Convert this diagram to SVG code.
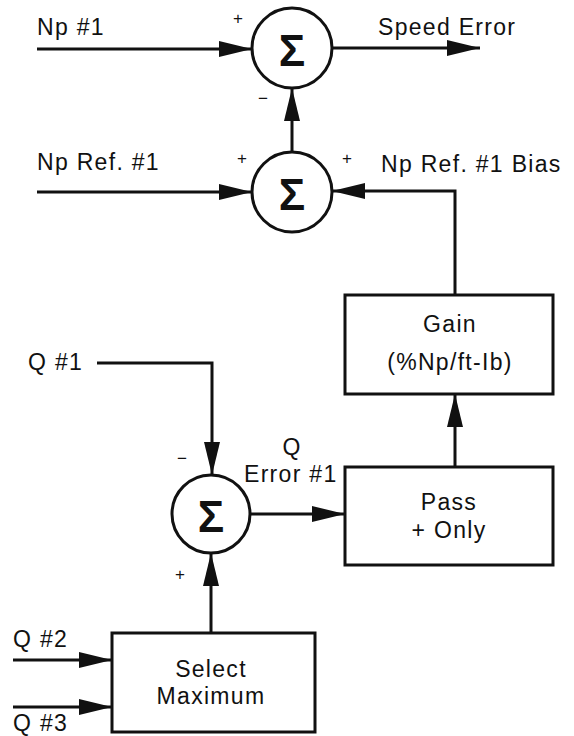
<svg xmlns="http://www.w3.org/2000/svg" width="574" height="736" viewBox="0 0 574 736">
  <style>
    .lbl { font-family: "Liberation Sans", Arial, sans-serif; font-size: 23px; fill: #111; letter-spacing: 1.3px; }
    .mid { text-anchor: middle; }
    .sign { font-family: "Liberation Sans", Arial, sans-serif; font-size: 17px; fill: #111; text-anchor: middle; }
    .sigma { font-family: "Liberation Sans", Arial, sans-serif; font-size: 44px; font-weight: bold; fill: #111; text-anchor: middle; }
    .ring { fill: #fff; stroke: #111; stroke-width: 3; }
    .box { fill: #fff; stroke: #111; stroke-width: 3; }
    .wire { fill: none; stroke: #111; stroke-width: 3; marker-end: url(#head); }
  </style>
  <defs>
    <marker id="head" markerUnits="userSpaceOnUse" markerWidth="34" markerHeight="18" refX="33" refY="8" orient="auto">
      <path d="M0,0 L33,8 L0,16 Z" fill="#111"/>
    </marker>
  </defs>
  <rect width="574" height="736" fill="#fff"/>

  <!-- signal paths -->
  <g id="connectors">
    <path class="wire" d="M37,49 H252"/>
    <path class="wire" d="M332,48 H480"/>
    <path class="wire" d="M292,152 V88"/>
    <path class="wire" d="M37,192 H252"/>
    <path class="wire" d="M455,295 V191 H332"/>
    <path class="wire" d="M455,467 V394"/>
    <path class="wire" d="M250,514 H345"/>
    <path class="wire" d="M97,363 H212 V475"/>
    <path class="wire" d="M211,633 V553"/>
    <path class="wire" d="M13,660 H112"/>
    <path class="wire" d="M13,707 H112"/>
  </g>

  <!-- summing junctions -->
  <g id="sum-speed">
    <circle class="ring" cx="292" cy="48" r="40"/>
    <text class="sigma" x="292" y="66">Σ</text>
    <text class="sign" x="238" y="24">+</text>
    <text class="sign" x="263" y="104">−</text>
  </g>
  <g id="sum-ref">
    <circle class="ring" cx="292" cy="192" r="40"/>
    <text class="sigma" x="292" y="210">Σ</text>
    <text class="sign" x="242" y="164">+</text>
    <text class="sign" x="347" y="164">+</text>
  </g>
  <g id="sum-q">
    <circle class="ring" cx="211" cy="514" r="39"/>
    <text class="sigma" x="211" y="532">Σ</text>
    <text class="sign" x="182" y="464">−</text>
    <text class="sign" x="180" y="580">+</text>
  </g>

  <!-- blocks -->
  <g id="gain">
    <rect class="box" x="345" y="295" width="208" height="99"/>
    <text class="lbl mid" x="450" y="332">Gain</text>
    <text class="lbl mid" x="450" y="370">(%Np/ft-Ib)</text>
  </g>
  <g id="pass">
    <rect class="box" x="345" y="467" width="208" height="98"/>
    <text class="lbl mid" x="449" y="510">Pass</text>
    <text class="lbl mid" x="449" y="538">+ Only</text>
  </g>
  <g id="select">
    <rect class="box" x="112" y="633" width="203" height="99"/>
    <text class="lbl mid" x="211" y="677">Select</text>
    <text class="lbl mid" x="211" y="704">Maximum</text>
  </g>

  <!-- signal names -->
  <g id="labels">
    <text class="lbl" x="37" y="35">Np #1</text>
    <text class="lbl" x="378" y="35">Speed Error</text>
    <text class="lbl" x="37" y="170">Np Ref. #1</text>
    <text class="lbl" x="381" y="172">Np Ref. #1 Bias</text>
    <text class="lbl" x="28" y="370">Q #1</text>
    <text class="lbl mid" x="292" y="455">Q</text>
    <text class="lbl" x="244" y="482">Error #1</text>
    <text class="lbl" x="13" y="647">Q #2</text>
    <text class="lbl" x="13" y="731">Q #3</text>
  </g>
</svg>
